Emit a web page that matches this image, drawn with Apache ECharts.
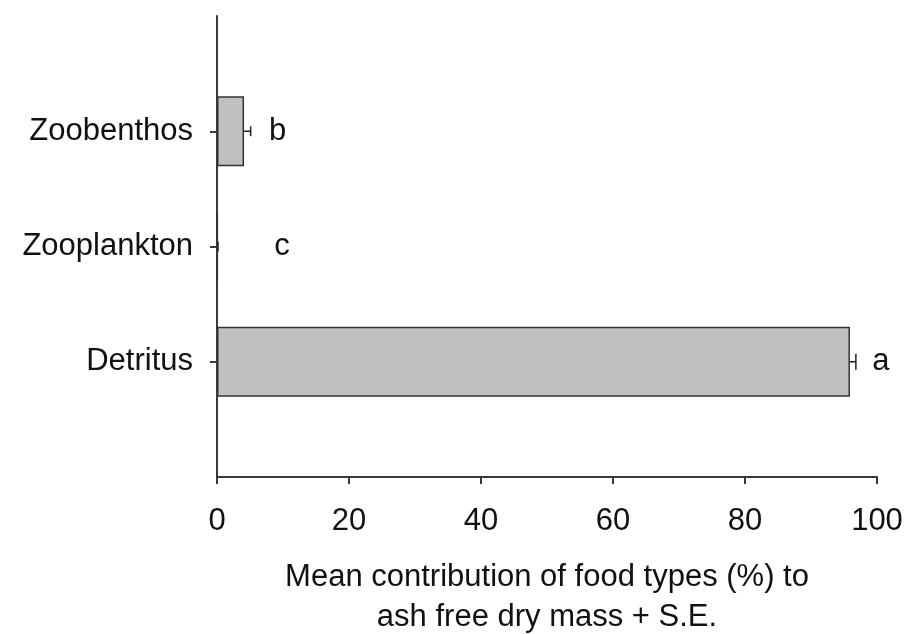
<!DOCTYPE html>
<html>
<head>
<meta charset="utf-8">
<script src="https://cdn.jsdelivr.net/npm/echarts@6/dist/echarts.min.js"></script>
<style>
  html, body { margin: 0; padding: 0; background: #fff; }
  #chart { width: 908px; height: 634px; }
</style>
</head>
<body>
<div id="chart"></div>
<script>
// Food types, bottom to top
const categories = ['Detritus', 'Zooplankton', 'Zoobenthos'];
// Mean contribution to ash free dry mass (%)
const meanValues = [95.9, 0.1, 4.1];
// Standard errors (%)
const seValues = [0.9, 0.05, 1.0];
// Significance letters
const groupLetters = ['a', 'c', 'b'];
// x axis ticks
const xTicks = [0, 20, 40, 60, 80, 100];

const FONT = '"Liberation Sans", Arial, sans-serif';
const FS = 31;
const INK = '#111';
const AXIS = '#3a3a3a';

// Empty slots above and below so the bars sit on evenly spaced ticks
const axisCats = [''].concat(categories, ['']);
const pad = v => [null].concat(v, [null]);

// Horizontal gap (px) between the end of each error bar and its letter
const letterGap = { Detritus: 25, Zooplankton: 64, Zoobenthos: 27 };
// Half height (px) of each error bar cap
const capHalf = { Detritus: 8, Zooplankton: 5, Zoobenthos: 5 };

const chart = echarts.init(document.getElementById('chart'), null, { renderer: 'canvas' });

chart.setOption({
  animation: false,
  backgroundColor: '#fff',
  grid: { left: 217, right: 31, top: 16, bottom: 157, containLabel: false, outerBoundsMode: 'none' },
  xAxis: {
    type: 'value',
    min: xTicks[0],
    max: xTicks[xTicks.length - 1],
    interval: xTicks[1] - xTicks[0],
    name: 'Mean contribution of food types (%) to\nash free dry mass + S.E.',
    nameLocation: 'middle',
    nameGap: 80,
    nameTextStyle: { fontFamily: FONT, fontSize: FS, color: INK, lineHeight: 40 },
    axisLine: { show: true, lineStyle: { color: AXIS, width: 2 } },
    axisTick: { show: true, length: 7, lineStyle: { color: AXIS, width: 2 } },
    axisLabel: { fontFamily: FONT, fontSize: FS, color: INK, margin: 29 },
    splitLine: { show: false }
  },
  yAxis: {
    type: 'category',
    data: axisCats,
    boundaryGap: false,
    axisLine: { show: true, lineStyle: { color: AXIS, width: 2 } },
    axisTick: {
      show: true, length: 7, alignWithLabel: true,
      interval: (i) => i > 0 && i < axisCats.length - 1,
      lineStyle: { color: AXIS, width: 2 }
    },
    axisLabel: {
      fontFamily: FONT, fontSize: FS, color: INK, margin: 24,
      interval: (i) => i > 0 && i < axisCats.length - 1
    },
    splitLine: { show: false }
  },
  series: [
    {
      type: 'bar',
      data: pad(meanValues),
      barWidth: 70,
      itemStyle: { color: '#c0c0c0', borderColor: '#333', borderWidth: 1.5 },
      z: 2
    },
    {
      // error bars: mean to mean + S.E. with a cap
      type: 'custom',
      z: 3,
      data: categories.map((c, i) => [meanValues[i], i + 1, seValues[i]]),
      renderItem: (params, api) => {
        const m = api.value(0), y = api.value(1), se = api.value(2);
        const p0 = api.coord([m, y]);
        const p1 = api.coord([m + se, y]);
        const h = capHalf[categories[params.dataIndex]];
        const style = { stroke: '#222', lineWidth: 1.5 };
        return {
          type: 'group',
          children: [
            { type: 'line', shape: { x1: p0[0], y1: p0[1], x2: p1[0], y2: p1[1] }, style },
            { type: 'line', shape: { x1: p1[0], y1: p1[1] - h, x2: p1[0], y2: p1[1] + h }, style }
          ]
        };
      }
    },
    {
      // significance letters to the right of each bar
      type: 'custom',
      z: 4,
      data: categories.map((c, i) => [meanValues[i] + seValues[i], i + 1]),
      renderItem: (params, api) => {
        const p = api.coord([api.value(0), api.value(1)]);
        const cat = categories[params.dataIndex];
        return {
          type: 'text',
          style: {
            x: p[0] + letterGap[cat], y: p[1],
            text: groupLetters[params.dataIndex],
            font: FS + 'px ' + FONT,
            fill: INK,
            textAlign: 'center',
            textVerticalAlign: 'middle'
          }
        };
      }
    }
  ]
});
</script>
</body>
</html>
